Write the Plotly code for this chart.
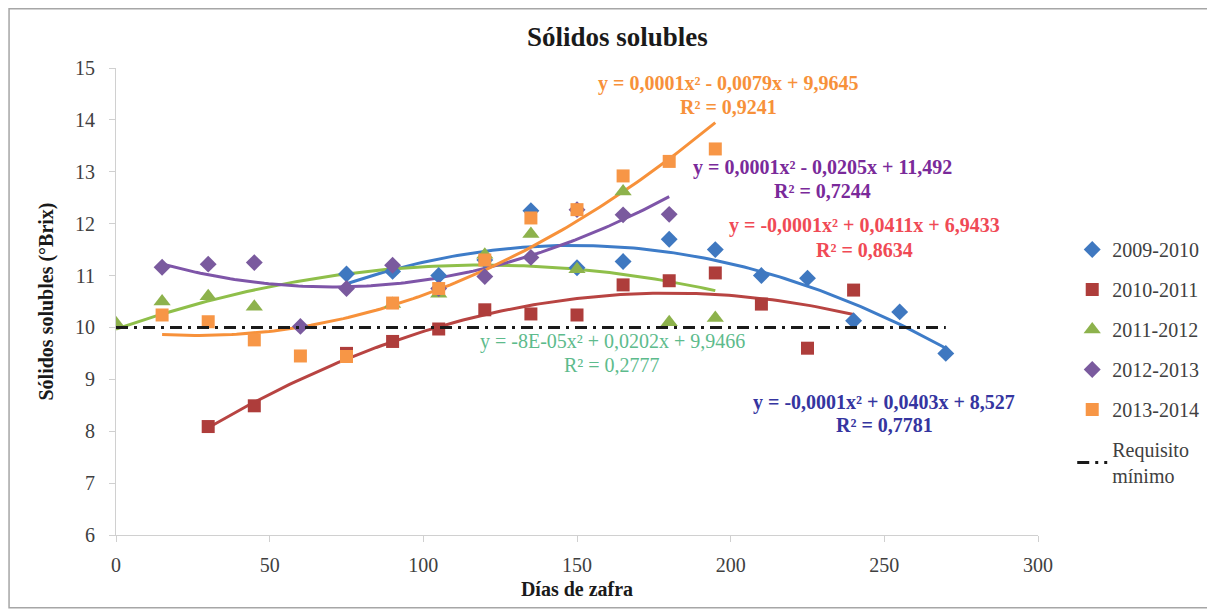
import numpy as np
import plotly.graph_objects as go

# ---- data ----
x_0910 = [75, 90, 105, 120, 135, 150, 165, 180, 195, 210, 225, 240, 255, 270]
y_0910 = [11.03, 11.08, 11.0, 11.3, 12.25, 11.15, 11.27, 11.7, 11.5, 11.0, 10.95, 10.13, 10.3, 9.5]

x_1011 = [30, 45, 75, 90, 105, 120, 135, 150, 165, 180, 195, 210, 225, 240]
y_1011 = [8.09, 8.49, 9.5, 9.73, 9.97, 10.34, 10.26, 10.24, 10.82, 10.9, 11.05, 10.45, 9.6, 10.72]

x_1112 = [0, 15, 30, 45, 90, 105, 120, 135, 150, 165, 180, 195]
y_1112 = [10.08, 10.5, 10.6, 10.4, 10.45, 10.65, 11.4, 11.8, 11.12, 12.62, 10.1, 10.18]

x_1213 = [15, 30, 45, 60, 75, 90, 105, 120, 135, 150, 165, 180]
y_1213 = [11.16, 11.22, 11.25, 10.02, 10.75, 11.2, 10.75, 10.98, 11.35, 12.27, 12.17, 12.18]

x_1314 = [15, 30, 45, 60, 75, 90, 105, 120, 135, 150, 165, 180, 195]
y_1314 = [10.24, 10.11, 9.76, 9.45, 9.44, 10.47, 10.75, 11.3, 12.11, 12.27, 12.92, 13.2, 13.44]

x_req = [0, 270]
y_req = [10, 10]

series_names = ["2009-2010", "2010-2011", "2011-2012", "2012-2013", "2013-2014"]
req_name = "Requisito<br>mínimo"

eq_texts = [
    "y = -0,0001x² + 0,0403x + 8,527",
    "y = -0,0001x² + 0,0411x + 6,9433",
    "y = -8E-05x² + 0,0202x + 9,9466",
    "y = 0,0001x² - 0,0205x + 11,492",
    "y = 0,0001x² - 0,0079x + 9,9645",
]
r2_texts = ["R² = 0,7781", "R² = 0,8634", "R² = 0,2777", "R² = 0,7244", "R² = 0,9241"]

# ---- styles ----
marker_colors = ["#3F78C0", "#AE3D3B", "#8DB24C", "#7A5A9E", "#F79646"]
line_colors = ["#3E7CC8", "#B84442", "#8FBF4A", "#7E55A8", "#F7913A"]
symbols = ["diamond", "square", "triangle-up", "diamond", "square"]
msizes = [13, 13, 15, 13, 13]
eq_colors = ["#3535A0", "#F04A55", "#5DBB8C", "#7A2A9A", "#F7913A"]
eq_bold = [True, True, False, True, True]
# (x, y of equation line, y of R² line) in data units
eq_pos = [(249.9, 8.56, 8.12), (243.7, 11.97, 11.49), (161.4, 9.72, 9.28),
          (229.8, 13.09, 12.63), (199.2, 14.71, 14.25)]

FONT = "Liberation Serif, Times New Roman, serif"

datasets = [(x_0910, y_0910), (x_1011, y_1011), (x_1112, y_1112),
            (x_1213, y_1213), (x_1314, y_1314)]

fig = go.Figure()

# trendlines (2nd order polynomial fits of the data)
for i, (xs, ys) in enumerate(datasets):
    c = np.polyfit(xs, ys, 2)
    xf = np.linspace(min(xs), max(xs), 120)
    fig.add_trace(go.Scatter(x=xf, y=np.polyval(c, xf), mode="lines",
                             line=dict(color=line_colors[i], width=3),
                             showlegend=False, hoverinfo="skip"))

for i, (xs, ys) in enumerate(datasets):
    fig.add_trace(go.Scatter(x=xs, y=ys, mode="markers", name=series_names[i],
                             legendgroup=series_names[i],
                             marker=dict(symbol=symbols[i], size=msizes[i],
                                         color=marker_colors[i], line=dict(width=0))))

fig.add_trace(go.Scatter(x=x_req, y=y_req, mode="lines", name=req_name,
                         legendgroup="req",
                         line=dict(color="#1a1a1a", width=3, dash="12px,6px,3px,6px")))

for i in range(len(eq_texts)):
    for txt, yy in ((eq_texts[i], eq_pos[i][1]), (r2_texts[i], eq_pos[i][2])):
        t = "<b>" + txt + "</b>" if eq_bold[i] else txt
        fig.add_annotation(x=eq_pos[i][0], y=yy, xref="x", yref="y",
                           text=t, showarrow=False, align="center",
                           font=dict(family=FONT, size=20, color=eq_colors[i]))

# chart-area frame
fig.add_shape(type="rect", xref="paper", yref="paper",
              x0=-0.116, x1=1.1895, y0=-0.156, y1=1.127,
              line=dict(color="#A6A6A6", width=1.5), layer="below")

axis_common = dict(showgrid=False, zeroline=False, showline=True,
                   linecolor="#D0D0D0", linewidth=1, ticks="outside",
                   ticklen=6, tickcolor="#D0D0D0",
                   tickfont=dict(family=FONT, size=20, color="#404040"))

fig.update_layout(
    width=1207, height=601,
    margin=dict(l=108, r=176, t=60, b=74),
    paper_bgcolor="white", plot_bgcolor="white",
    title=dict(text="<b>Sólidos solubles</b>", x=0.5437, xref="paper", xanchor="center",
               y=0.952, yanchor="middle",
               font=dict(family=FONT, size=27, color="#1a1a1a")),
    xaxis=dict(range=[0, 300], tickvals=[0, 50, 100, 150, 200, 250, 300],
               ticklabelstandoff=6,
               title=dict(text="<b>Días de zafra</b>", standoff=6,
                          font=dict(family=FONT, size=20, color="#1a1a1a")),
               **axis_common),
    yaxis=dict(range=[6, 15], dtick=1, ticklabelstandoff=10,
               title=dict(text="<b>Sólidos solubles (°Brix)</b>", standoff=16,
                          font=dict(family=FONT, size=20, color="#1a1a1a")),
               **axis_common),
    legend=dict(x=1.036, y=0.653, xanchor="left", yanchor="top",
                font=dict(family=FONT, size=20, color="#404040"),
                tracegroupgap=11, itemwidth=30, bgcolor="rgba(0,0,0,0)"),
    showlegend=True,
)

fig.write_html("out.html")
